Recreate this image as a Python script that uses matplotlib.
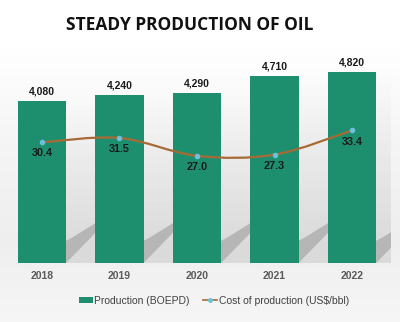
import numpy as np
import matplotlib
matplotlib.use("Agg")
import matplotlib.pyplot as plt
from matplotlib.path import Path
from matplotlib.patches import PathPatch, Patch, Polygon
from matplotlib.lines import Line2D

years = ["2018", "2019", "2020", "2021", "2022"]
production = [4080, 4240, 4290, 4710, 4820]
cost = [30.4, 31.5, 27.0, 27.3, 33.4]
production_labels = ["4,080", "4,240", "4,290", "4,710", "4,820"]
cost_labels = ["30.4", "31.5", "27.0", "27.3", "33.4"]

title = "STEADY PRODUCTION OF OIL"
legend_labels = ["Production (BOEPD)", "Cost of production (US$/bbl)"]

bar_color = "#1e8f6e"
line_color = "#a86a35"
marker_color = "#6cc0dc"

fig = plt.figure(figsize=(4.0, 3.22), dpi=100)

# background gradient
bg = fig.add_axes([0, 0, 1, 1], zorder=-10)
grad = np.linspace(0, 1, 322)
vals = np.interp(grad, [0, 0.15, 0.45, 0.75, 1.0], [1.0, 1.0, 0.96, 0.935, 0.965])
img = np.dstack([vals, vals, vals])[0][:, None, :].repeat(2, axis=1)
bg.imshow(img, aspect="auto", extent=[0, 1, 0, 1], origin="upper")
bg.axis("off")

ax = fig.add_axes([0.008, 0.1832, 0.969, 0.6165])
ax.set_facecolor("none")
x = np.arange(len(years))
width = 0.62

# shadows behind bars
for i, h in enumerate(production):
    xr = x[i] + width / 2
    dx = 0.40
    soft = Polygon([(xr, 0), (xr + dx, 0), (xr + dx, h), (xr, h)],
                   closed=True, facecolor="none", edgecolor="none")
    ax.add_patch(soft)
    a = np.linspace(0.22, 0.0, 60)[:, None]
    rgba = np.zeros((60, 1, 4))
    rgba[..., :3] = 0.55
    rgba[..., 3] = a
    im = ax.imshow(rgba, extent=[xr, xr + dx, 0, h], origin="lower",
                   aspect="auto", zorder=1)
    im.set_clip_path(soft)
    dark = Polygon([(xr, 0), (xr + dx, 800), (xr + dx, 1030), (xr + 0.08, 640), (xr, 560)],
                   closed=True, facecolor="#b2b2b2", edgecolor="none", zorder=1.5, alpha=0.9)
    ax.add_patch(dark)

bars = ax.bar(x, production, width=width, color=bar_color, zorder=3)
ax.set_xlim(-0.5, len(years) - 0.5)
ax.set_ylim(0, 5000)
for xi, h, lab in zip(x, production, production_labels):
    ax.text(xi, h + 230, lab, ha="center", va="center", fontsize=7.5,
            fontweight="bold", color="#1a1a1a", family="Liberation Sans", zorder=5)

ax.set_xticks(x)
ax.set_xticklabels(years, fontsize=7.5, fontweight="bold", color="#5a5a5a",
                   family="Liberation Sans")
ax.tick_params(axis="x", length=0, pad=6)
ax.set_yticks([])
for s in ax.spines.values():
    s.set_visible(False)

ax2 = ax.twinx()
ax2.set_ylim(0, 50)
ax2.set_yticks([])
for s in ax2.spines.values():
    s.set_visible(False)

# smooth curve through the points (Catmull-Rom -> cubic Bezier)
pts = np.column_stack([x, cost]).astype(float)
verts = [tuple(pts[0])]
codes = [Path.MOVETO]
t = 1 / 6
for i in range(len(pts) - 1):
    p0 = pts[i - 1] if i > 0 else pts[i]
    p1 = pts[i]
    p2 = pts[i + 1]
    p3 = pts[i + 2] if i + 2 < len(pts) else pts[i + 1]
    c1 = p1 + (p2 - p0) * t
    c2 = p2 - (p3 - p1) * t
    verts += [tuple(c1), tuple(c2), tuple(p2)]
    codes += [Path.CURVE4] * 3
ax2.add_patch(PathPatch(Path(verts, codes), facecolor="none", edgecolor=line_color,
                        lw=1.6, zorder=6))
ax2.plot(x, cost, linestyle="none", marker="o", markersize=3, color=marker_color, zorder=7)
for xi, c, lab in zip(x, cost, cost_labels):
    ax2.text(xi, c - 2.8, lab, ha="center", va="center", fontsize=7.8,
             fontweight="bold", color="#1a1a1a", family="Liberation Sans", zorder=8)

fig.text(0.475, 0.922, title, ha="center", va="center", fontsize=12.5,
         fontweight="bold", color="#111111", family="Open Sans")

handles = [Patch(facecolor=bar_color, edgecolor="none"),
           Line2D([0], [0], color=line_color, lw=1.2, marker="o", markersize=2.5,
                  markerfacecolor=marker_color, markeredgecolor=marker_color)]
fig.legend(handles, legend_labels, loc="center", bbox_to_anchor=(0.535, 0.066), ncol=2,
           frameon=False, prop={"family": "Liberation Sans", "size": 7.5},
           labelcolor="#404040", handlelength=1.35, handleheight=0.55,
           handletextpad=0.1, columnspacing=1.3)

fig.savefig("out.png", dpi=100)
